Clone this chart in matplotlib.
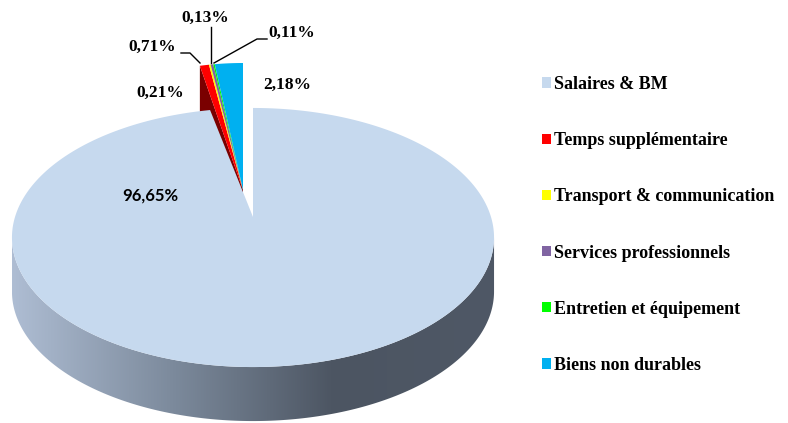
import numpy as np
import matplotlib.pyplot as plt
from matplotlib.patches import Polygon, Patch
from matplotlib.colors import LinearSegmentedColormap

# Répartition des dépenses (%)
categories = ['Salaires & BM', 'Temps supplémentaire', 'Transport & communication',
              'Services professionnels', 'Entretien et équipement', 'Biens non durables']
values = [96.65, 0.71, 0.13, 0.21, 0.11, 2.18]
labels = ['96,65%', '0,71%', '0,13%', '0,21%', '0,11%', '2,18%']
colors = ['#c6d9ee', '#ff0000', '#ffff00', '#8064a2', '#00ff00', '#00b0f0']

SERIF = ['Liberation Serif', 'DejaVu Serif']

fig = plt.figure(figsize=(7.88, 4.23), dpi=100)
ax = fig.add_axes([0, 0, 1, 1])
ax.set_xlim(0, 788)
ax.set_ylim(423, 0)
ax.axis('off')

# angles des tranches (sens horaire à partir de midi)
vals = np.array(values, dtype=float)
spans = vals / vals.sum() * 360
cum = np.concatenate([[0], np.cumsum(spans)])

# projection en perspective du disque principal
cx, cy, A, B, k, depth = 253, 217, 238, 126.3, 0.1583, 54


def main_pt(phi):
    t = np.radians(phi)
    w = 1 + k * np.sin(t)
    return cx + A * np.cos(t) / w, cy - B * np.sin(t) / w


# tranches détachées (projection simple)
wx, wy, wa, wb, wdepth = 243, 190, 207, 127, 47


def wedge_pt(phi):
    t = np.radians(phi)
    return wx + wa * np.cos(t), wy - wb * np.sin(t)


def arc(fn, a0, a1, n=200):
    phis = np.linspace(a0, a1, n)
    xs, ys = fn(phis)
    return np.column_stack([xs, ys])


# face latérale de la partie détachée (coupe gauche)
left_phi = 90 - cum[1] + 360
p_out = np.array(wedge_pt(left_phi))
face = np.array([[wx, wy], p_out, p_out + [0, wdepth], [wx, wy + wdepth]])
ax.add_patch(Polygon(face, closed=True, facecolor='#7a0000', lw=0))

# dessus des petites tranches
for i in range(1, len(values)):
    a_hi = 90 - cum[i] + 360
    a_lo = 90 - cum[i + 1] + 360
    pts = np.vstack([[wx, wy], arc(wedge_pt, a_lo, a_hi, 30)])
    ax.add_patch(Polygon(pts, closed=True, facecolor=colors[i], lw=0))

# paroi avant du disque principal, en dégradé
s = np.degrees(np.arcsin(k))
top_edge = arc(main_pt, 180 + s, 360 - s)
side = np.vstack([top_edge, top_edge[::-1] + [0, depth]])
side_patch = Polygon(side, closed=True, facecolor='none', lw=0)
ax.add_patch(side_patch)
grad = np.linspace(0, 1, 256)[None, :]
cmap = LinearSegmentedColormap.from_list('side', ['#aebdd3', '#7c8a9c', '#4c5562', '#4f5866'])
im = ax.imshow(grad, cmap=cmap, extent=[side[:, 0].min(), side[:, 0].max(), 425, 225],
               aspect='auto', zorder=1)
im.set_clip_path(side_patch)

# dessus du disque principal
main_top = np.vstack([[cx, cy], arc(main_pt, 90 - cum[1] + 360, 450, 400)])
ax.add_patch(Polygon(main_top, closed=True, facecolor=colors[0], lw=0, zorder=2))

# étiquettes
ax.text(150, 196, labels[0], family='Lato', weight='bold', fontsize=12,
        ha='center', va='center', zorder=5)
lab_pos = {1: (152, 47), 2: (205, 18), 3: (160, 93), 4: (292, 33), 5: (287, 85)}
for i, (tx, ty) in lab_pos.items():
    ax.text(tx, ty, labels[i], family=SERIF, weight='bold', fontsize=12.5,
            ha='center', va='center', zorder=5)

# lignes de rappel
ax.plot([181, 190, 200], [53, 53, 63], color='black', lw=1, zorder=4)
ax.plot([211, 211], [27, 63], color='black', lw=1, zorder=4)
ax.plot([267, 257, 214], [39, 39, 63], color='black', lw=1, zorder=4)

# légende
handles = [Patch(facecolor=c, edgecolor='none') for c in colors]
ax.legend(handles, categories, loc='upper left', bbox_to_anchor=(542 / 788, 1 - 76 / 423),
          frameon=False, prop={'family': SERIF, 'weight': 'bold', 'size': 13},
          handlelength=0.5, handleheight=0.5, handletextpad=0.15,
          labelspacing=2.17, borderpad=0, borderaxespad=0)

fig.savefig('out.png', dpi=100)
